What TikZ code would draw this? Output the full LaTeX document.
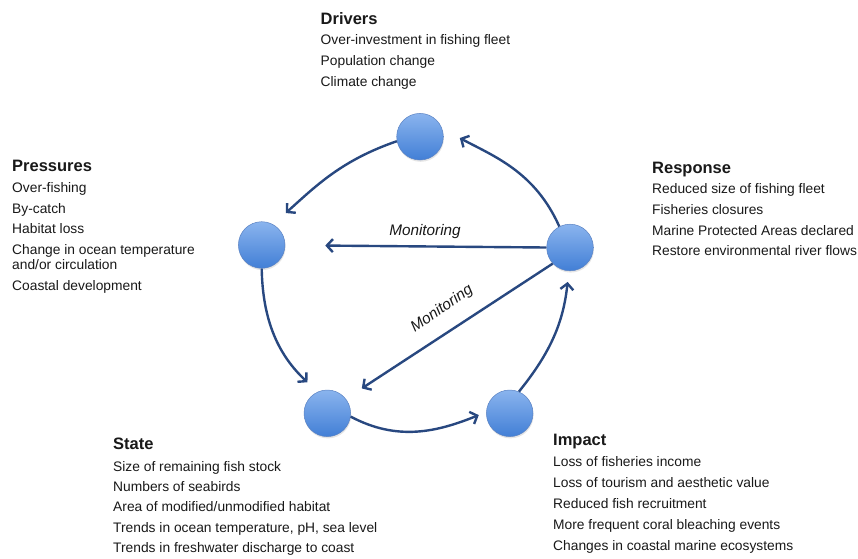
\documentclass[tikz,border=0pt]{standalone}
\usepackage{fontspec}
\setmainfont{Liberation Sans}
\usetikzlibrary{arrows.meta,shadows}

\definecolor{arrowc}{RGB}{40,72,128}
\definecolor{ctop}{RGB}{138,180,238}
\definecolor{cbot}{RGB}{66,127,214}
\definecolor{cborder}{RGB}{90,130,195}
\definecolor{txt}{RGB}{25,25,25}

\begin{document}
\begin{tikzpicture}[x=1pt,y=-1pt,
  stage/.style={circle, minimum size=46.6pt, inner sep=0pt, draw=cborder, line width=0.5pt,
    top color=ctop, bottom color=cbot,
    drop shadow={opacity=0.2, shadow xshift=0.6pt, shadow yshift=-1.8pt}},
  flow/.style={draw=arrowc, line width=2.4pt, -{Straight Barb[length=6pt,width=13pt]}},
  head/.style={anchor=base west, inner sep=0pt, text=txt, font=\fontsize{16.5}{18}\selectfont\bfseries},
  body/.style={anchor=base west, inner sep=0pt, text=txt, font=\fontsize{13.8}{16}\selectfont},
  monit/.style={inner sep=0pt, text=txt, font=\fontsize{15.3}{17}\selectfont\itshape}]

\fill[white] (0,0) rectangle (858,558);
\useasboundingbox (0,0) rectangle (858,558);

% stage circles
\node[stage] (D) at (420,136.7) {};
\node[stage] (P) at (261.7,245) {};
\node[stage] (R) at (570,247.5) {};
\node[stage] (S) at (327.3,413.3) {};
\node[stage] (I) at (509.7,413.3) {};

% cycle arrows
\draw[flow, shorten >=17pt] (D.191) to[out=199, in=42] (P.61);
\draw[flow, shorten >=14pt] (P.270) to[out=271, in=137] (S.114);
\draw[flow, shorten >=8pt] (S.-8) to[out=-28, in=202] (I.177);
\draw[flow, shorten >=11pt] (I.67) to[out=51, in=264] (R.267);
\draw[flow, shorten >=20pt] (R.117) to[out=114, in=332] (D.20);

% monitoring arrows
\draw[flow, shorten >=40pt] (R.west) -- (P);
\draw[flow, shorten >=19pt] (R.223) -- (S.38);
\node[monit] (m1) at (425,232) {Monitoring};
\node[monit, rotate=34.6] (m2) at (442,309) {Monitoring};

% Drivers
\node[head] (dh) at (320.5,24) {Drivers};
\node[body] (d1) at (320.5,44.5) {Over-investment in fishing fleet};
\node[body] (d2) at (320.5,65.5) {Population change};
\node[body] (d3) at (320.5,86) {Climate change};

% Pressures
\node[head] (ph) at (12,171) {Pressures};
\node[body] (p1) at (12,192.5) {Over-fishing};
\node[body] (p2) at (12,213) {By-catch};
\node[body] (p3) at (12,233.5) {Habitat loss};
\node[body] (p4) at (12,254.5) {Change in ocean temperature};
\node[body] (p5) at (12,269.5) {and/or circulation};
\node[body] (p6) at (12,290) {Coastal development};

% Response
\node[head] (rh) at (652,173) {Response};
\node[body] (r1) at (652,193.5) {Reduced size of fishing fleet};
\node[body] (r2) at (652,214) {Fisheries closures};
\node[body] (r3) at (652,235) {Marine Protected Areas declared};
\node[body] (r4) at (652,255.5) {Restore environmental river flows};

% State
\node[head] (sh) at (113,449) {State};
\node[body] (s1) at (113,471) {Size of remaining fish stock};
\node[body] (s2) at (113,491.5) {Numbers of seabirds};
\node[body] (s3) at (113,511.5) {Area of modified/unmodified habitat};
\node[body] (s4) at (113,532) {Trends in ocean temperature, pH, sea level};
\node[body] (s5) at (113,552) {Trends in freshwater discharge to coast};

% Impact
\node[head] (ih) at (553,445) {Impact};
\node[body] (i1) at (553,466.5) {Loss of fisheries income};
\node[body] (i2) at (553,487.5) {Loss of tourism and aesthetic value};
\node[body] (i3) at (553,508.5) {Reduced fish recruitment};
\node[body] (i4) at (553,529.5) {More frequent coral bleaching events};
\node[body] (i5) at (553,550.5) {Changes in coastal marine ecosystems};
\end{tikzpicture}
\end{document}
